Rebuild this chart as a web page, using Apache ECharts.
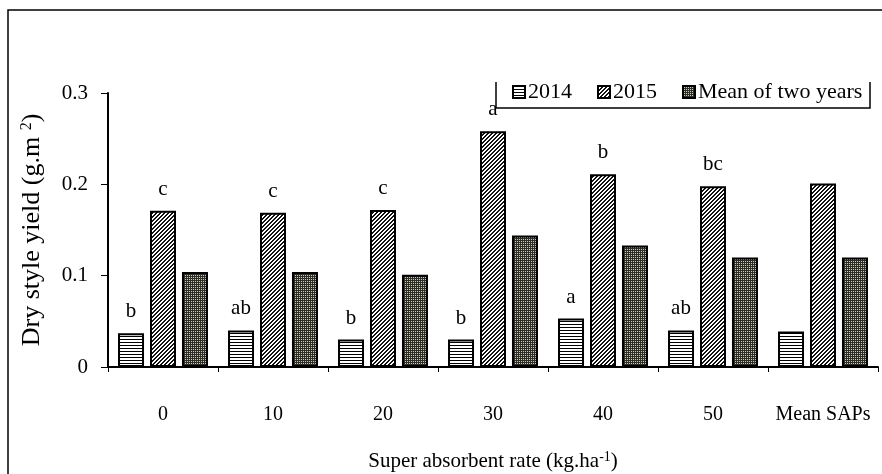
<!DOCTYPE html>
<html>
<head>
<meta charset="utf-8">
<script src="https://cdn.jsdelivr.net/npm/echarts@6/dist/echarts.min.js"></script>
<style>
  html, body { margin: 0; padding: 0; background: #fff; }
  #chart { width: 882px; height: 474px; }
</style>
</head>
<body>
<div id="chart"></div>
<script>
// categories and values
var categories = ['0', '10', '20', '30', '40', '50', 'Mean SAPs'];
var yield2014 = [0.037, 0.040, 0.030, 0.030, 0.053, 0.040, 0.039];
var yield2015 = [0.171, 0.169, 0.172, 0.258, 0.211, 0.198, 0.201];
var yieldMean = [0.104, 0.104, 0.101, 0.144, 0.133, 0.120, 0.120];
var letters2014 = ['b', 'ab', 'b', 'b', 'a', 'ab', ''];
var letters2015 = ['c', 'c', 'c', 'a', 'b', 'bc', ''];
var yTicks = [0, 0.1, 0.2, 0.3];

var FONT = '"Liberation Serif", "Times New Roman", serif';

// small canvases used as fill patterns
function makePattern(w, h, paint) {
    var c = document.createElement('canvas');
    c.width = w;
    c.height = h;
    var ctx = c.getContext('2d');
    for (var y = 0; y < h; y++) {
        for (var x = 0; x < w; x++) {
            ctx.fillStyle = paint(x, y);
            ctx.fillRect(x, y, 1, 1);
        }
    }
    return { image: c, repeat: 'repeat' };
}
var stripes = makePattern(4, 3, function (x, y) {
    return y === 0 ? '#000' : '#fff';
});
var hatch = makePattern(4, 4, function (x, y) {
    return (x + y) % 4 < 2 ? '#111' : '#fff';
});
var dots = makePattern(4, 4, function (x, y) {
    if (x % 2 === 1 && y % 2 === 1) return '#d0ccb4';
    return '#2e2e24';
});

function barSeries(name, data, fill, letters) {
    return {
        name: name,
        type: 'bar',
        data: data,
        barWidth: 26,
        barGap: '23%',
        itemStyle: {
            color: fill,
            borderColor: '#000',
            borderWidth: 2
        },
        label: {
            show: !!letters,
            position: 'top',
            distance: 11,
            color: '#000',
            fontFamily: FONT,
            fontSize: 21,
            formatter: function (p) {
                return letters ? letters[p.dataIndex] : '';
            }
        },
        emphasis: { disabled: true }
    };
}

var chart = echarts.init(document.getElementById('chart'), null, { renderer: 'canvas' });

chart.setOption({
    animation: false,
    backgroundColor: '#fff',
    textStyle: { fontFamily: FONT, color: '#000' },
    grid: {
        left: 108,
        right: 4,
        top: 93,
        bottom: 107,
        outerBoundsMode: 'none'
    },
    legend: {
        left: 512,
        top: 81,
        padding: 0,
        itemWidth: 12,
        itemHeight: 12,
        itemGap: 25,
        icon: 'rect',
        textStyle: { fontFamily: FONT, fontSize: 22, color: '#000', padding: [0, 0, 0, -2] },
        data: ['2014', '2015', 'Mean of two years']
    },
    xAxis: {
        type: 'category',
        data: categories,
        boundaryGap: true,
        name: 'Super absorbent rate (kg.ha{sup|-1})',
        nameLocation: 'middle',
        nameGap: 83,
        nameTextStyle: {
            fontFamily: FONT,
            fontSize: 21,
            color: '#000',
            rich: {
                sup: { fontFamily: FONT, fontSize: 14, verticalAlign: 'bottom', padding: [0, 0, 9, 0] }
            }
        },
        axisLine: { show: true, lineStyle: { color: '#000', width: 2 } },
        axisTick: { show: true, interval: 0, length: 5, inside: false, lineStyle: { color: '#000', width: 1 } },
        axisLabel: { interval: 0, fontFamily: FONT, fontSize: 20, color: '#000', margin: 38 },
        splitLine: { show: false }
    },
    yAxis: {
        type: 'value',
        min: yTicks[0],
        max: yTicks[yTicks.length - 1],
        interval: 0.1,
        name: 'Dry style yield (g.m {sup|2})',
        nameLocation: 'middle',
        nameGap: 62,
        nameRotate: 90,
        nameTextStyle: {
            fontFamily: FONT,
            fontSize: 26,
            color: '#000',
            rich: {
                sup: { fontFamily: FONT, fontSize: 16, verticalAlign: 'bottom', padding: [0, 0, 11, 0] }
            }
        },
        axisLine: { show: true, lineStyle: { color: '#000', width: 2 } },
        axisTick: { show: true, length: 7, lineStyle: { color: '#000', width: 1 } },
        axisLabel: {
            fontFamily: FONT,
            fontSize: 21,
            color: '#000',
            margin: 20,
            formatter: function (v) { return v === 0 ? '0' : v.toFixed(1); }
        },
        splitLine: { show: false }
    },
    graphic: [
        {
            type: 'polyline',
            silent: true,
            shape: { points: [[8, 474], [8, 10], [882, 10]] },
            style: { stroke: '#000', lineWidth: 1.5, fill: null }
        },
        {
            type: 'polyline',
            silent: true,
            shape: { points: [[496, 82], [496, 108], [870, 108], [870, 82]] },
            style: { stroke: '#000', lineWidth: 1.5, fill: null }
        }
    ],
    series: [
        barSeries('2014', yield2014, stripes, letters2014),
        barSeries('2015', yield2015, hatch, letters2015),
        barSeries('Mean of two years', yieldMean, dots, null)
    ]
});
</script>
</body>
</html>
